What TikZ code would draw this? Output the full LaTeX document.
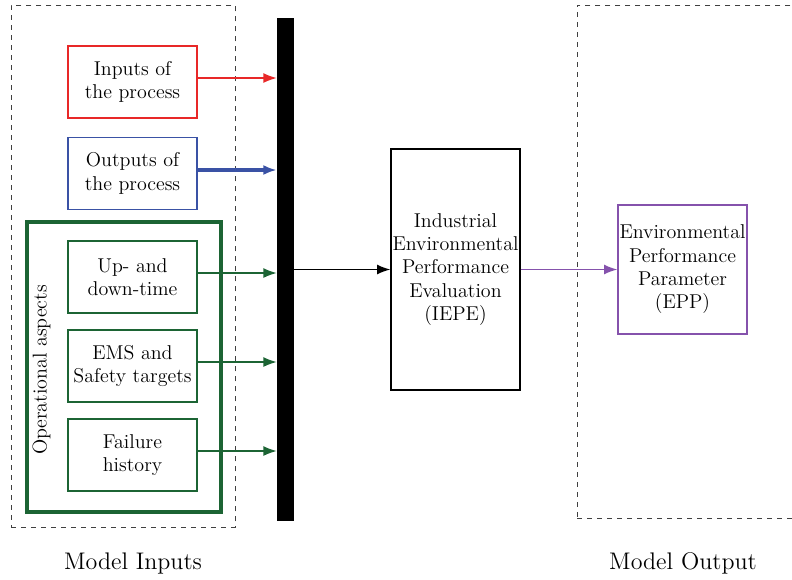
\documentclass[tikz,border=0pt]{standalone}
\usepackage{tikz}
\usetikzlibrary{positioning}
\usetikzlibrary {arrows.meta}

\definecolor{inred}{RGB}{232,40,40}
\definecolor{outblue}{RGB}{58,82,165}
\definecolor{opgreen}{RGB}{28,100,52}
\definecolor{epppurple}{RGB}{133,82,172}

\begin{document}
\begin{tikzpicture}[x=0.6pt,y=-0.6pt]

\def\labfont{\large}
\def\capfont{\Large}

\clip (0,0) rectangle (792,579);
\useasboundingbox (0,0) rectangle (792,579);

% dashed frames
\node[draw=black!75,dashed,thin,minimum width=134.4pt,minimum height=313.2pt,anchor=north west](inframe) at (11,5){};
\node[draw=black!75,dashed,thin,minimum width=150pt,minimum height=307.8pt,anchor=north west](outframe) at (577,5){};

\node[font=\capfont,anchor=mid](modin) at (133,566){Model Inputs};
\node[font=\capfont,anchor=mid](modout) at (683,566){Model Output};

% input boxes
\node[font=\labfont,draw=inred,thick,align=center,minimum width=77.4pt,minimum height=43.2pt](inp) at (132.5,82){Inputs of\\the process};
\node[font=\labfont,draw=outblue,thick,align=center,minimum width=77.4pt,minimum height=43.2pt,below=10.8pt of inp](outp){Outputs of\\the process};

\node[draw=opgreen,line width=2.4pt,minimum width=116.4pt,minimum height=174pt](oper) at (124,367){};
\node[font=\labfont,rotate=90,anchor=mid](operlab) at (43,370){Operational aspects};

\node[font=\labfont,draw=opgreen,thick,align=center,minimum width=77.4pt,minimum height=43.2pt](updown) at (132.5,277){Up- and\\down-time};
\node[font=\labfont,draw=opgreen,thick,align=center,minimum width=77.4pt,minimum height=43.2pt,below=9.4pt of updown](ems){EMS and\\Safety targets};
\node[font=\labfont,draw=opgreen,thick,align=center,minimum width=77.4pt,minimum height=43.2pt,below=9.4pt of ems](fail){Failure\\history};

% collecting bar
\node[fill=black,inner sep=0pt,minimum width=10.2pt,minimum height=301.8pt](bar) at (285.5,269.5){};

\node[font=\labfont,draw=black,thick,align=center,inner sep=0pt,minimum width=77.4pt,minimum height=144.6pt](iepe) at (455.5,269.5){Industrial\\Environmental\\Performance\\Evaluation\\(IEPE)};
\node[font=\labfont,draw=epppurple,thick,align=center,inner sep=0pt,minimum width=77.4pt,minimum height=77.4pt](epp) at (682.5,269.5){Environmental\\Performance\\Parameter\\(EPP)};

\draw[inred,thick,-{Latex[length=8pt,width=6pt]}] ([yshift=2.4pt]inp.east) -- ([yshift=2.4pt]inp.east -| bar.west);
\draw[outblue,line width=2.4pt,-{Latex[length=8pt,width=6pt]}] ([yshift=2pt]outp.east) -- ([yshift=2pt]outp.east -| bar.west);
\draw[opgreen,thick,-{Latex[length=8pt,width=6pt]}] ([yshift=2.4pt]updown.east) -- ([yshift=2.4pt]updown.east -| bar.west);
\draw[opgreen,thick,-{Latex[length=8pt,width=6pt]}] ([yshift=2.4pt]ems.east) -- ([yshift=2.4pt]ems.east -| bar.west);
\draw[opgreen,thick,-{Latex[length=8pt,width=6pt]}] ([yshift=2.4pt]fail.east) -- ([yshift=2.4pt]fail.east -| bar.west);
\draw[thick,-{Latex[length=8pt,width=6pt]}] (bar.east |- iepe.west) -- (iepe.west);
\draw[epppurple,thick,-{Latex[length=8pt,width=6pt]}] (iepe.east) -- (epp.west);
\end{tikzpicture}
\end{document}
